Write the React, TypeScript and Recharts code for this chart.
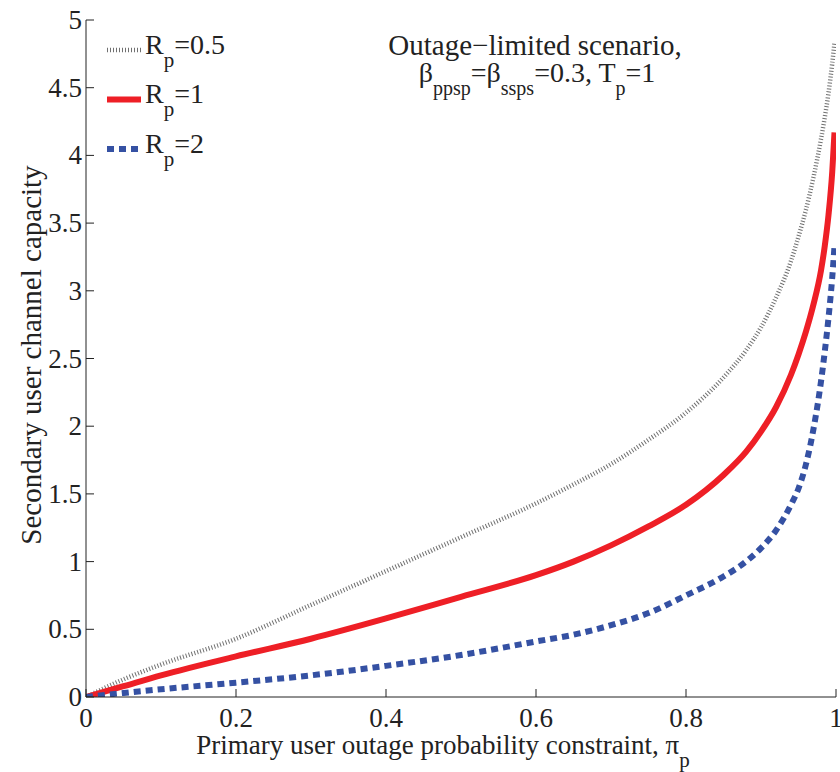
import { Line, LineChart, XAxis, YAxis } from "recharts"

// outage probability constraint (x) and capacity for each R_p
const PI_P = [0, 0.05, 0.1, 0.2, 0.3, 0.4, 0.5, 0.6, 0.65, 0.7, 0.75, 0.8, 0.85, 0.88, 0.9, 0.92, 0.94, 0.95, 0.96, 0.97, 0.98, 0.985, 0.99, 0.995, 0.998]
const CAP_RP05 = [0, 0.13, 0.24, 0.43, 0.68, 0.93, 1.18, 1.43, 1.57, 1.72, 1.9, 2.1, 2.36, 2.56, 2.73, 2.95, 3.22, 3.4, 3.6, 3.84, 4.12, 4.28, 4.46, 4.68, 4.83]
const CAP_RP1 = [0, 0.08, 0.16, 0.3, 0.43, 0.58, 0.74, 0.9, 1.0, 1.12, 1.26, 1.42, 1.64, 1.81, 1.96, 2.14, 2.38, 2.53, 2.7, 2.9, 3.15, 3.33, 3.56, 3.88, 4.17]
const CAP_RP2 = [0, 0.03, 0.057, 0.106, 0.16, 0.23, 0.31, 0.41, 0.46, 0.53, 0.62, 0.75, 0.89, 1.0, 1.1, 1.23, 1.42, 1.54, 1.72, 1.98, 2.33, 2.55, 2.8, 3.1, 3.33]

const X_TICKS = [0, 0.2, 0.4, 0.6, 0.8, 1]
const X_TICK_LABELS = ["0", "0.2", "0.4", "0.6", "0.8", "1"]
const Y_TICKS = [0, 0.5, 1, 1.5, 2, 2.5, 3, 3.5, 4, 4.5, 5]
const Y_TICK_LABELS = ["0", "0.5", "1", "1.5", "2", "2.5", "3", "3.5", "4", "4.5", "5"]

const RP_LABELS = ["0.5", "1", "2"]

const FONT = "'Liberation Serif', 'Times New Roman', serif"
const INK = "#222"

const SERIES = [
    { key: "rp05", color: "#707070", width: 4.5, dash: "1 2" },
    { key: "rp1", color: "#ee1f26", width: 6, dash: undefined },
    { key: "rp2", color: "#3551a3", width: 6, dash: "7 5" },
]

const chartData = PI_P.map((p, i) => ({
    pi: p,
    rp05: CAP_RP05[i],
    rp1: CAP_RP1[i],
    rp2: CAP_RP2[i],
}))

function XTick({ x, y, payload }: any) {
    const idx = X_TICKS.indexOf(payload.value)
    return (
        <g>
            <line x1={x} y1={y} x2={x} y2={y - 8} stroke={INK} strokeWidth={1} />
            <text x={x} y={y + 30} textAnchor="middle" fontSize={27} fontFamily={FONT} fill={INK}>
                {X_TICK_LABELS[idx]}
            </text>
        </g>
    )
}

function YTick({ x, y, payload }: any) {
    const idx = Y_TICKS.indexOf(payload.value)
    return (
        <g>
            <line x1={x} y1={y} x2={x + 8} y2={y} stroke={INK} strokeWidth={1} />
            <text x={x - 4} y={y + 9} textAnchor="end" fontSize={27} fontFamily={FONT} fill={INK}>
                {Y_TICK_LABELS[idx]}
            </text>
        </g>
    )
}

export default function App() {
    return (
        <div style={{ position: "absolute", left: 0, top: 0, width: 840, height: 772, background: "#fff" }}>
            <LineChart
                width={840}
                height={772}
                data={chartData}
                margin={{ top: 20, right: 4, left: 0, bottom: 0 }}
            >
                <XAxis
                    dataKey="pi"
                    type="number"
                    domain={[0, 1]}
                    ticks={X_TICKS}
                    tickSize={0}
                    tickMargin={0}
                    tickLine={false}
                    tick={<XTick />}
                    height={75}
                    stroke={INK}
                    allowDataOverflow
                />
                <YAxis
                    type="number"
                    domain={[0, 5]}
                    ticks={Y_TICKS}
                    tickSize={0}
                    tickMargin={0}
                    tickLine={false}
                    tick={<YTick />}
                    width={86}
                    stroke={INK}
                    allowDataOverflow
                />
                {SERIES.map((s) => (
                    <Line
                        key={s.key}
                        dataKey={s.key}
                        type="monotone"
                        stroke={s.color}
                        strokeWidth={s.width}
                        strokeDasharray={s.dash}
                        dot={false}
                        activeDot={false}
                        isAnimationActive={false}
                    />
                ))}
                {/* legend, top left inside the axes */}
                <g>
                    {SERIES.map((s, i) => {
                        const cy = 50 + i * 49.5
                        return (
                            <g key={s.key}>
                                <line x1={107} y1={cy} x2={141} y2={cy} stroke={s.color} strokeWidth={s.width} strokeDasharray={s.dash} />
                                <text x={145} y={cy + 3.5} fontSize={28} fontFamily={FONT} fill={INK}>
                                    R
                                    <tspan dy={13} fontSize={21}>p</tspan>
                                    <tspan dy={-13}>={RP_LABELS[i]}</tspan>
                                </text>
                            </g>
                        )
                    })}
                </g>
                <text x={535} y={55} textAnchor="middle" fontSize={29} fontFamily={FONT} fill={INK}>
                    Outage−limited scenario,
                </text>
                <text x={537} y={82} textAnchor="middle" fontSize={28} fontFamily={FONT} fill={INK}>
                    β<tspan dy={13} fontSize={20}>ppsp</tspan>
                    <tspan dy={-13}>=β</tspan>
                    <tspan dy={13} fontSize={20}>ssps</tspan>
                    <tspan dy={-13}>=0.3, T</tspan>
                    <tspan dy={13} fontSize={20}>p</tspan>
                    <tspan dy={-13}>=1</tspan>
                </text>
                <text
                    x={31}
                    y={355}
                    transform="rotate(-90 31 355)"
                    textAnchor="middle"
                    dominantBaseline="central"
                    fontSize={29}
                    fontFamily={FONT}
                    fill={INK}
                >
                    Secondary user channel capacity
                </text>
                <text x={443} y={754} textAnchor="middle" fontSize={27} fontFamily={FONT} fill={INK}>
                    Primary user outage probability constraint, π
                    <tspan dy={13} fontSize={21}>p</tspan>
                </text>
            </LineChart>
        </div>
    )
}
